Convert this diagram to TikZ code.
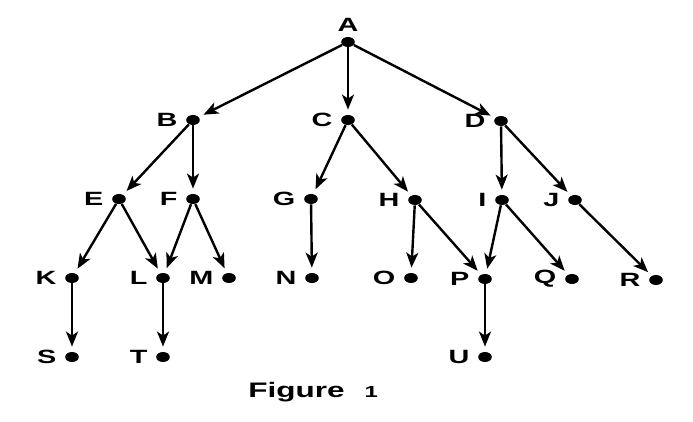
\documentclass[tikz,border=0pt]{standalone}
\usepackage{fontspec}
\setmainfont{Liberation Sans}[FakeStretch=1.5]
\usetikzlibrary{arrows.meta,shapes.geometric}
\begin{document}
\begin{tikzpicture}[x=0.5pt,y=-0.5pt]
	\tikzstyle{vertex}=[ellipse,fill=black,inner sep=0pt,minimum width=6.8pt,minimum height=5pt]
	\tikzstyle{lab}=[inner sep=0pt,font=\fontsize{9.6}{11}\selectfont\bfseries]
	\tikzstyle{edge}=[draw,line width=1.2pt,shorten >=2.5pt,>={Stealth[length=7.5pt,width=6pt,inset=2pt]}]
	\tikzset{every label/.style={lab},label distance=4pt}
	\useasboundingbox (0,0) rectangle (693,422);
	\begin{scope}
		\node [vertex,label={[label distance=2.5pt]above:A}] (A) at (348,42) {};
		\node [vertex,label=left:B] (B) at (193,120) {};
		\node [vertex,label=left:C] (C) at (348,120) {};
		\node [vertex,label=left:D] (D) at (501,121) {};
		\node [vertex,label=left:E] (E) at (119,199) {};
		\node [vertex,label=left:F] (F) at (193,199) {};
		\node [vertex,label=left:G] (G) at (311,199) {};
		\node [vertex,label=left:H] (H) at (415,200) {};
		\node [vertex,label=left:I] (I) at (502,200) {};
		\node [vertex,label=left:J] (J) at (575,200) {};
		\node [vertex,label=left:K] (K) at (72,278) {};
		\node [vertex,label=left:L] (L) at (163,278) {};
		\node [vertex,label=left:M] (M) at (229,278) {};
		\node [vertex,label=left:N] (N) at (312,278) {};
		\node [vertex,label=left:O] (O) at (411,278) {};
		\node [vertex,label=left:P] (P) at (485,279) {};
		\node [vertex,label=left:Q] (Q) at (572,279) {};
		\node [vertex,label=left:R] (R) at (656,280) {};
		\node [vertex,label=left:S] (S) at (72,357) {};
		\node [vertex,label=left:T] (T) at (163,357) {};
		\node [vertex,label=left:U] (U) at (485,357) {};

		\path[edge,->] (A) edge (B) (A) edge (C) (A) edge (D);
		\path[edge,->] (B) edge (E) (B) edge (F);
		\path[edge,->] (C) edge (G) (C) edge (H);
		\path[edge,->] (D) edge (I) (D) edge (J);
		\path[edge,->] (E) edge (K) (E) edge (L);
		\path[edge,->] (F) edge (L) (F) edge (M);
		\path[edge,->] (G) edge (N);
		\path[edge,->] (H) edge (O) (H) edge (P);
		\path[edge,->] (I) edge (P) (I) edge (Q);
		\path[edge,->] (J) edge (R);
		\path[edge,->] (K) edge (S);
		\path[edge,->] (L) edge (T);
		\path[edge,->] (P) edge (U);
	\end{scope}
	\node [anchor=base west,inner sep=0pt,font=\fontsize{10.5}{12}\selectfont\bfseries] (caption) at (248,398) {Figure\hspace{10pt}{\fontsize{8}{9}\selectfont 1}};
\end{tikzpicture}
\end{document}
